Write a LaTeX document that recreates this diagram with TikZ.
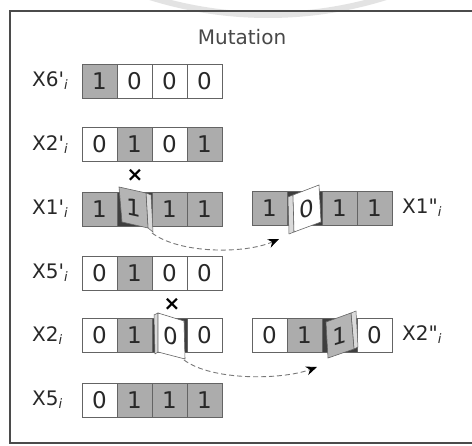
\documentclass[tikz,border=0pt]{standalone}
\usepackage{fontspec}
\setmainfont{DejaVu Sans}
% loaded a second time without TeX ligatures, so ' and " stay straight
\setmonofont{DejaVu Sans}
\usetikzlibrary{arrows.meta}

\definecolor{cellgray}{RGB}{172,172,172}
\definecolor{cellline}{RGB}{100,100,100}
\definecolor{slotdark}{RGB}{62,62,62}
\definecolor{cardgray}{RGB}{180,180,180}
\definecolor{cardedge}{RGB}{218,218,218}
\definecolor{inkgray}{RGB}{40,40,40}
\definecolor{framegray}{RGB}{75,75,75}
\definecolor{dashgray}{RGB}{120,120,120}

\newcommand\digitfont{\fontsize{23}{23}\selectfont}
\newcommand\labelfont{\fontsize{20}{20}\selectfont\ttfamily}
\newcommand\subi{\raisebox{-3pt}{\fontsize{13}{13}\selectfont\rmfamily\itshape i}}

\tikzset{
  cell/.style={draw=cellline, line width=0.8pt, minimum width=35pt,
    minimum height=34pt, inner sep=0pt, font=\digitfont, text=inkgray},
  bit1/.style={cell, fill=cellgray},
  bit0/.style={cell, fill=white},
  bits/.style={cell, fill=slotdark},
  rowlabel/.style={anchor=west, inner sep=0pt, font=\labelfont, text=inkgray},
  cardface/.style={draw=cellline, line width=0.6pt},
  cardside/.style={draw=cellline, line width=0.5pt, fill=cardedge},
  cardtext/.style={font=\digitfont, text=inkgray, inner sep=0pt, transform shape},
  cross/.style={font=\fontsize{20}{20}\selectfont\bfseries, text=black, inner sep=0pt},
  flip/.style={dashgray, line width=0.9pt, dash pattern=on 5pt off 3pt,
    -{Stealth[length=11pt, width=9pt, black]}},
}

\begin{document}
\begin{tikzpicture}[x=1pt, y=-1pt]
\useasboundingbox (0,0) rectangle (472,446);
\clip (0,0) rectangle (472,446);
\fill[white] (0,0) rectangle (472,446);

% faint ring behind the top edge
\draw[gray!22, line width=6pt] (268,-380) circle[radius=395];

% frame, open to the right
\draw[framegray, line width=1.6pt] (490,11) -- (10,11) -- (10,443) -- (490,443);

\node[font=\fontsize{20}{20}\selectfont, text=inkgray!85] (title) at (242,37) {Mutation};

% left column of bit strings
\node[rowlabel] (lx6p) at (32,81)    {X6'\subi};
\node[rowlabel] (lx2p) at (32,144.5) {X2'\subi};
\node[rowlabel] (lx1p) at (32,209)   {X1'\subi};
\node[rowlabel] (lx5p) at (32,273)   {X5'\subi};
\node[rowlabel] (lx2)  at (32,335.5) {X2\subi};
\node[rowlabel] (lx5)  at (32,400)   {X5\subi};

\foreach \b/\t [count=\k] in {1/1,0/0,0/0,0/0}
  \node[bit\b] (x6p-\k) at ({64.5+35*\k},81) {\t};
\foreach \b/\t [count=\k] in {0/0,1/1,0/0,1/1}
  \node[bit\b] (x2p-\k) at ({64.5+35*\k},144.5) {\t};
\foreach \b/\t [count=\k] in {1/1,s/{},1/1,1/1}
  \node[bit\b] (x1p-\k) at ({64.5+35*\k},209) {\t};
\foreach \b/\t [count=\k] in {0/0,1/1,0/0,0/0}
  \node[bit\b] (x5p-\k) at ({64.5+35*\k},273) {\t};
\foreach \b/\t [count=\k] in {0/0,1/1,s/{},0/0}
  \node[bit\b] (x2-\k) at ({64.5+35*\k},335.5) {\t};
\foreach \b/\t [count=\k] in {0/0,1/1,1/1,1/1}
  \node[bit\b] (x5-\k) at ({64.5+35*\k},400) {\t};

% right column: the mutated strings
\foreach \b/\t [count=\k] in {1/1,s/{},1/1,1/1}
  \node[bit\b] (x1pp-\k) at ({234.5+35*\k},208) {\t};
\foreach \b/\t [count=\k] in {0/0,1/1,s/{},0/0}
  \node[bit\b] (x2pp-\k) at ({234.5+35*\k},335) {\t};
\node[rowlabel] (lx1pp) at (402,208) {X1"\subi};
\node[rowlabel] (lx2pp) at (402,335) {X2"\subi};

% flipping cards: X1' bit 2
\filldraw[cardside] (146,193) -- (151,195) -- (153,232) -- (148,228) -- cycle;
\filldraw[cardface, fill=cardgray] (119,187) -- (146,193) -- (148,228) -- (122,222) -- cycle;
\node[cardtext, yslant=-0.22] (c1) at (134,208) {1};
% X1'' bit 2
\filldraw[cardside] (288,197) -- (293,195) -- (294,232) -- (289,234) -- cycle;
\filldraw[cardface, fill=white] (293,195) -- (319,185) -- (321,222) -- (294,232) -- cycle;
\node[cardtext, yslant=0.3] (c2) at (307,209) {0};
% X2 bit 3
\filldraw[cardside] (154,315) -- (158,313) -- (158,352) -- (155,354) -- cycle;
\filldraw[cardface, fill=white] (158,313) -- (184,321) -- (185,359) -- (158,352) -- cycle;
\node[cardtext, yslant=-0.25] (c3) at (171,336) {0};
% X2'' bit 3
\filldraw[cardside] (351,313) -- (356,311) -- (358,347) -- (354,349) -- cycle;
\filldraw[cardface, fill=cardgray] (326,322) -- (351,313) -- (354,349) -- (328,358) -- cycle;
\node[cardtext, yslant=0.3] (c4) at (340,336) {1};

% mutation marks
\node[cross] (m1) at (135,175) {×};
\node[cross] (m2) at (172,304) {×};

% flip arrows
\coordinate (f1s) at (152,233);
\coordinate (f1e) at (279,239);
\coordinate (f2s) at (184,360);
\coordinate (f2e) at (317,367);
\draw[flip] (f1s) .. controls (180,254) and (245,254) .. (f1e);
\draw[flip] (f2s) .. controls (212,381) and (282,380) .. (f2e);
\end{tikzpicture}
\end{document}
